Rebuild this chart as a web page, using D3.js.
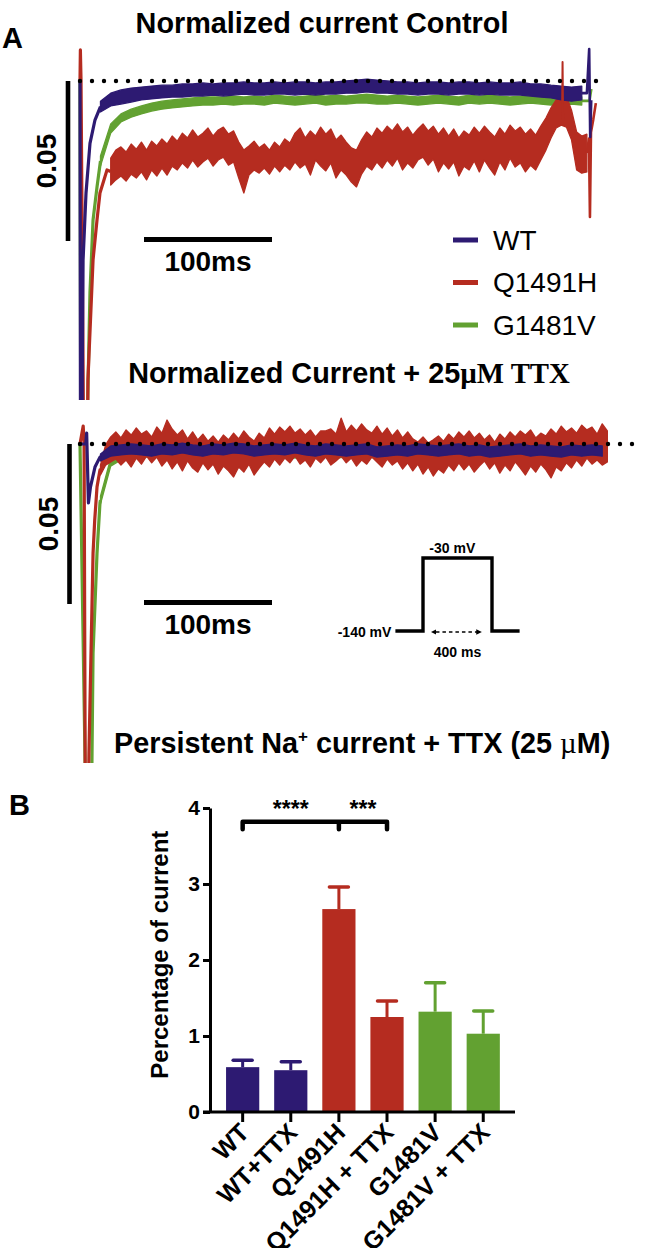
<!DOCTYPE html>
<html><head><meta charset="utf-8">
<script src="https://cdn.jsdelivr.net/npm/d3@7"></script>
<style>
body{margin:0;background:#fff}
svg{display:block}
text{font-family:"Liberation Sans",Arial,Helvetica,sans-serif;fill:#000}
</style>
</head><body>
<svg id="fig" width="648" height="1248"></svg>
<script>
// ---------------- DATA (normalized current in % of peak, time in ms) ----------------
const seriesNames = ["WT", "Q1491H", "G1481V"];

// Panel A top: Control
const wtCtrlTransient = [[0,0],[0.5,-15],[1.4,-15],[1.8,-9],[2.4,-5.6],[4.7,-3.5],[7.8,-1.95],[11.7,-1.22],[16,-0.8]];
const wtCtrlT0 = 16, wtCtrlDt = 8;
const wtCtrlHi = [-0.63,-0.38,-0.28,-0.22,-0.19,-0.16,-0.13,-0.13,-0.09,-0.09,-0.06,-0.09,-0.06,-0.06,-0.03,-0.06,-0.06,-0.03,-0.06,-0.03,-0.03,-0.06,-0.03,-0.03,0,0.03,0.06,0.03,0,-0.03,-0.03,-0.06,-0.03,-0.03,-0.06,-0.03,-0.03,-0.06,-0.03,-0.06,-0.06,-0.03,-0.09,-0.09,-0.13,-0.16,-0.19,-0.16];
const wtCtrlLo = [-0.97,-0.78,-0.72,-0.66,-0.59,-0.56,-0.53,-0.5,-0.5,-0.47,-0.47,-0.44,-0.47,-0.44,-0.41,-0.44,-0.44,-0.41,-0.41,-0.44,-0.41,-0.44,-0.41,-0.41,-0.38,-0.38,-0.34,-0.38,-0.38,-0.41,-0.41,-0.44,-0.41,-0.41,-0.44,-0.41,-0.41,-0.44,-0.41,-0.44,-0.44,-0.44,-0.47,-0.5,-0.53,-0.59,-0.63,-0.59];
const wtCtrlEnd = [[392,-0.38],[396,-0.38],[397.8,1.0],[398.6,-1.75],[399.4,-0.6]];

const gCtrlTransient = [[0,0],[0.8,-15],[4.5,-15],[6,-10],[7.8,-6.6],[10.2,-4.34],[13.3,-3.31],[16,-2.5]];
const gCtrlT0 = 16, gCtrlDt = 8;
const gCtrlHi = [-2.34,-1.34,-1.03,-0.88,-0.78,-0.69,-0.63,-0.59,-0.56,-0.53,-0.5,-0.5,-0.5,-0.47,-0.5,-0.47,-0.5,-0.44,-0.47,-0.5,-0.47,-0.44,-0.47,-0.44,-0.47,-0.44,-0.41,-0.44,-0.47,-0.44,-0.47,-0.5,-0.47,-0.44,-0.47,-0.5,-0.44,-0.47,-0.44,-0.47,-0.5,-0.47,-0.44,-0.47,-0.47,-0.5,-0.47,-0.5];
const gCtrlLo = [-2.66,-1.63,-1.28,-1.13,-1.03,-0.94,-0.88,-0.84,-0.81,-0.78,-0.75,-0.75,-0.72,-0.75,-0.72,-0.72,-0.75,-0.69,-0.72,-0.75,-0.72,-0.69,-0.75,-0.72,-0.72,-0.69,-0.69,-0.72,-0.72,-0.69,-0.72,-0.75,-0.72,-0.69,-0.72,-0.75,-0.69,-0.72,-0.69,-0.72,-0.75,-0.72,-0.69,-0.72,-0.75,-0.75,-0.72,-0.75];
const gCtrlEnd = [[392,-0.62],[398,-0.62],[399.5,-0.25]];

const qCtrlTransient = [[0,0],[0.3,0.97],[0.8,0],[3.5,-15],[5.5,-15],[6.2,-9.34],[10.2,-5.59],[13.3,-4.34],[15.6,-3.5],[21.1,-2.78],[24,-2.83]];
const qCtrlT0 = 24, qCtrlDt = 4;
const qCtrlHi = [-2.41,-2.16,-2.06,-2.22,-1.97,-2.13,-1.91,-2.16,-1.88,-2.03,
 -1.81,-1.97,-1.72,-1.88,-1.63,-1.78,-1.53,-1.75,-1.63,-1.47,
 -1.72,-1.53,-1.44,-1.66,-1.56,-1.91,-2.16,-2.03,-1.88,-2.09,
 -1.97,-2.16,-1.91,-2.06,-1.81,-1.94,-1.63,-1.47,-1.78,-1.56,
 -1.72,-1.44,-1.66,-1.5,-1.84,-1.69,-1.91,-2.09,-2.16,-1.84,
 -1.59,-1.75,-1.47,-1.63,-1.41,-1.56,-1.34,-1.59,-1.44,-1.69,
 -1.5,-1.34,-1.56,-1.41,-1.66,-1.47,-1.72,-1.5,-1.78,-1.56,
 -1.69,-1.44,-1.63,-1.41,-1.59,-1.75,-1.47,-1.66,-1.38,-1.56,
 -1.44,-1.66,-1.5,-1.69,-1.41,-1.16,-0.84,-0.59,-0.44,-0.47,
 -0.91,-1.59,-1.72,-1.66];
const qCtrlLo = [-3.25,-3.09,-2.97,-3.13,-2.91,-3.03,-2.84,-3.09,-2.78,-2.97,
 -2.72,-2.94,-2.66,-2.78,-2.56,-2.72,-2.47,-2.69,-2.53,-2.41,
 -2.66,-2.47,-2.38,-2.63,-2.53,-3.03,-3.5,-2.94,-2.78,-2.88,
 -2.72,-2.91,-2.66,-2.84,-2.63,-2.78,-2.53,-2.72,-2.59,-2.94,
 -2.47,-2.66,-2.81,-2.56,-3.03,-2.78,-2.94,-3.16,-3.31,-2.91,
 -2.66,-2.78,-2.53,-2.72,-2.47,-2.66,-2.41,-2.78,-2.56,-2.72,
 -2.47,-2.38,-2.63,-2.44,-2.84,-2.56,-2.75,-2.53,-2.97,-2.66,
 -2.78,-2.5,-2.84,-2.47,-2.72,-2.94,-2.53,-2.78,-2.41,-2.69,
 -2.56,-2.84,-2.63,-2.78,-2.47,-2.16,-1.78,-1.47,-1.38,-1.44,
 -1.84,-2.78,-2.88,-2.84];
const qCtrlSpike = [[376.6,-1.2],[377,0.59],[377.4,-1.2]];
const qCtrlEnd = [[396,-2.25],[397.6,-1.8],[398.4,-4.25],[399.2,-1.6],[401,-1.2],[403,-0.69]];

// Panel A bottom: + 25 µM TTX
const wtTtxTransient = [[0,0],[4.5,0],[5.2,0.34],[6.6,-1.84],[8.2,-1.34],[11.7,-0.72],[15.6,-0.41],[16,-0.42]];
const wtTtxT0 = 16, wtTtxDt = 8;
const wtTtxHi = [-0.31,-0.06,-0.03,0,-0.03,-0.06,0,-0.03,0.03,-0.03,-0.06,0,-0.03,0.03,0,-0.06,-0.03,0,-0.03,0.03,-0.03,-0.06,0,-0.03,-0.06,-0.03,0,-0.09,-0.06,-0.03,-0.06,0,-0.03,-0.06,-0.03,0,-0.06,-0.03,-0.09,-0.06,-0.03,0,-0.06,-0.03,-0.06,-0.09,-0.03,-0.06,-0.03,-0.06];
const wtTtxLo = [-0.53,-0.38,-0.34,-0.31,-0.34,-0.38,-0.31,-0.34,-0.28,-0.34,-0.38,-0.31,-0.34,-0.28,-0.31,-0.38,-0.34,-0.31,-0.34,-0.28,-0.34,-0.38,-0.31,-0.34,-0.38,-0.34,-0.31,-0.41,-0.38,-0.34,-0.38,-0.31,-0.34,-0.38,-0.34,-0.31,-0.38,-0.34,-0.41,-0.38,-0.34,-0.31,-0.38,-0.34,-0.38,-0.41,-0.34,-0.38,-0.34,-0.38];

const gTtxTransient = [[0,0],[4.8,-12],[8.8,-12],[9.4,-9.66],[10.2,-6.53],[13.3,-3.41],[15.6,-1.84],[16,-1.75]];
const gTtxT0 = 16, gTtxDt = 8;
const gTtxHi = [-1.63,-0.44,-0.25,-0.16,-0.13,-0.13,-0.09,-0.13,-0.09,-0.13,-0.16,-0.09,-0.13,-0.09,-0.13,-0.16,-0.13,-0.09,-0.13,-0.16,-0.13,-0.09,-0.13,-0.16,-0.13,-0.09,-0.13,-0.16,-0.13,-0.09,-0.13,-0.16,-0.13,-0.09,-0.13,-0.16,-0.13,-0.09,-0.13,-0.16,-0.13,-0.09,-0.13,-0.16,-0.13,-0.09,-0.13,-0.16,-0.13,-0.09];
const gTtxLo = [-1.88,-0.69,-0.5,-0.44,-0.41,-0.41,-0.38,-0.41,-0.38,-0.41,-0.44,-0.38,-0.41,-0.38,-0.41,-0.44,-0.41,-0.38,-0.41,-0.44,-0.41,-0.38,-0.41,-0.44,-0.41,-0.38,-0.41,-0.44,-0.41,-0.38,-0.41,-0.44,-0.41,-0.38,-0.41,-0.44,-0.41,-0.38,-0.41,-0.44,-0.41,-0.38,-0.41,-0.44,-0.41,-0.38,-0.41,-0.44,-0.41,-0.38];

const qTtxTransient = [[0,0],[2.5,0.56],[3.2,0],[4.2,-12],[6.2,-12],[7,-9.66],[8.6,-6.53],[10.2,-3.41],[11.5,-2.38],[13.3,-1.34],[15.6,-0.81],[16,-0.81]];
const qTtxT0 = 16, qTtxDt = 4;
const qTtxHi = [-0.66,-0.03,0.22,0.38,0.19,0.44,0.28,0.5,0.31,0.41,
 0.22,0.53,0.34,0.75,0.47,0.28,0.44,0.16,0.38,0.13,
 0.31,0.09,0.25,0.06,0.28,0.13,0.34,0.16,0.41,0.22,
 0.09,0.34,0.19,0.5,0.31,0.53,0.38,0.56,0.34,0.47,
 0.28,0.44,0.22,0.41,0.41,0.47,0.31,0.81,0.38,0.59,
 0.41,0.63,0.44,0.34,0.56,0.31,0.5,0.25,0.44,0.19,
 0.38,0.16,0.06,0.22,0.03,0.13,0.25,0.09,0.31,0.16,
 0.38,0.22,0.41,0.19,0.34,0.13,0.28,0.06,0.31,0.16,
 0.38,0.22,0.41,0.28,0.44,0.19,0.34,0.25,0.47,0.31,
 0.56,0.38,0.5,0.34,0.59,0.44,0.53,0.31,0.63,0.41];
const qTtxLo = [-0.97,-0.66,-0.56,-0.47,-0.66,-0.5,-0.72,-0.44,-0.63,-0.38,
 -0.59,-0.41,-0.69,-0.5,-0.78,-0.56,-0.84,-0.53,-0.75,-0.88,
 -0.59,-0.81,-0.63,-0.94,-0.69,-0.84,-1.03,-0.72,-0.88,-0.63,
 -0.97,-0.75,-0.56,-0.72,-0.47,-0.66,-0.44,-0.59,-0.38,-0.63,
 -0.5,-0.72,-0.44,-0.59,-0.41,-0.66,-0.53,-0.38,-0.59,-0.44,
 -0.69,-0.5,-0.63,-0.41,-0.56,-0.72,-0.47,-0.66,-0.53,-0.78,
 -0.59,-0.84,-0.63,-0.94,-0.72,-1.0,-0.78,-0.91,-0.66,-0.84,
 -0.59,-0.81,-0.63,-0.88,-0.69,-0.53,-0.78,-0.59,-0.91,-0.66,
 -0.84,-0.56,-0.75,-0.97,-0.69,-0.88,-0.63,-0.81,-1.06,-0.72,
 -0.84,-0.59,-0.75,-0.5,-0.69,-0.44,-0.63,-0.5,-0.66,-0.56];

// scale bars and zero lines
const scaleBarCurrent = 5;      // % of peak  -> labelled 0.05
const scaleBarTime = [50, 150]; // ms -> 100 ms
const zeroLineEnd = [412.5, 431.5];

// voltage protocol
const protoT = [-160, 0, 0, 400, 400, 560];
const protoV = [-140, -140, -30, -30, -140, -140];

// Panel B
const categories = ["WT", "WT+TTX", "Q1491H", "Q1491H + TTX", "G1481V", "G1481V + TTX"];
const barMeans = [0.59, 0.55, 2.67, 1.25, 1.32, 1.03];
const barErrors = [0.09, 0.11, 0.29, 0.21, 0.38, 0.30];
const barGroup = ["WT", "WT", "Q1491H", "Q1491H", "G1481V", "G1481V"];
const yTicks = [0, 1, 2, 3, 4];
const comparisons = [["WT", "Q1491H", "****"], ["Q1491H", "Q1491H + TTX", "***"]];
const bracketLevel = 3.82;

// ---------------- STYLE ----------------
const colors = { "WT": "#2d1a72", "Q1491H": "#b52c20", "G1481V": "#62a131" };

// ---------------- DRAW ----------------
const svg = d3.select("#fig");
const defs = svg.append("defs");
defs.append("clipPath").attr("id", "clipTop").append("rect").attr("x", 0).attr("y", 0).attr("width", 648).attr("height", 400);
defs.append("clipPath").attr("id", "clipBot").append("rect").attr("x", 0).attr("y", 405).attr("width", 648).attr("height", 358);
["s", "e"].forEach(k => {
  defs.append("marker").attr("id", "arr" + k).attr("viewBox", "0 0 10 10").attr("refX", k === "e" ? 9 : 1).attr("refY", 5)
    .attr("markerWidth", 4).attr("markerHeight", 4).attr("orient", "auto-start-reverse")
    .append("path").attr("d", "M0,0L10,5L0,10Z").attr("fill", "#000");
});

const xT = d3.scaleLinear().domain([0, 400]).range([80, 592]);
const yTop = d3.scaleLinear().domain([0, -5]).range([81, 241]);
const yBot = d3.scaleLinear().domain([0, -5]).range([444, 604]);

function drawBand(g, y, t0, dt, hi, lo, color) {
  const pts = hi.map((h, i) => [t0 + i * dt, h, lo[i]]);
  g.append("path").datum(pts)
    .attr("d", d3.area().x(d => xT(d[0])).y0(d => y(d[2])).y1(d => y(d[1])))
    .attr("fill", color).attr("stroke", color).attr("stroke-width", 1.3).attr("stroke-linejoin", "round");
}
function drawLine(g, y, pts, color, w) {
  g.append("path").datum(pts)
    .attr("d", d3.line().x(d => xT(d[0])).y(d => y(d[1])))
    .attr("fill", "none").attr("stroke", color).attr("stroke-width", w).attr("stroke-linejoin", "round");
}

// Labels
svg.append("text").attr("x", 2).attr("y", 48).attr("font-size", 29).attr("font-weight", "bold").text("A");
svg.append("text").attr("x", 9).attr("y", 815).attr("font-size", 29).attr("font-weight", "bold").text("B");

svg.append("text").attr("x", 322).attr("y", 33).attr("text-anchor", "middle").attr("font-size", 28.8).attr("font-weight", "bold")
  .text("Normalized current Control");
const t2 = svg.append("text").attr("x", 349).attr("y", 383).attr("text-anchor", "middle").attr("font-size", 28.8).attr("font-weight", "bold");
t2.append("tspan").text("Normalized Current + 25");
t2.append("tspan").attr("font-family", "'Liberation Serif',Times,serif").text("µM TTX");
const t3 = svg.append("text").attr("x", 114).attr("y", 753).attr("font-size", 28.8).attr("font-weight", "bold");
t3.append("tspan").text("Persistent Na");
t3.append("tspan").attr("dy", -11).attr("font-size", 17).text("+");
t3.append("tspan").attr("dy", 11).text(" current + TTX (25 ");
t3.append("tspan").attr("font-family", "'Liberation Serif',Times,serif").attr("font-weight", "normal").text("µ");
t3.append("tspan").text("M)");

// Panels
const panels = [
  { y: yTop, clip: "clipTop", zeroEnd: zeroLineEnd[0], barX: 68,
    bands: [
      ["G1481V", gCtrlTransient, gCtrlT0, gCtrlDt, gCtrlHi, gCtrlLo, gCtrlEnd],
      ["Q1491H", qCtrlTransient, qCtrlT0, qCtrlDt, qCtrlHi, qCtrlLo, qCtrlEnd],
      ["WT", wtCtrlTransient, wtCtrlT0, wtCtrlDt, wtCtrlHi, wtCtrlLo, wtCtrlEnd]
    ], extra: [["Q1491H", qCtrlSpike]] },
  { y: yBot, clip: "clipBot", zeroEnd: zeroLineEnd[1], barX: 69.5,
    bands: [
      ["G1481V", gTtxTransient, gTtxT0, gTtxDt, gTtxHi, gTtxLo, null],
      ["Q1491H", qTtxTransient, qTtxT0, qTtxDt, qTtxHi, qTtxLo, null],
      ["WT", wtTtxTransient, wtTtxT0, wtTtxDt, wtTtxHi, wtTtxLo, null]
    ], extra: [] }
];

panels.forEach(p => {
  const g = svg.append("g").attr("clip-path", `url(#${p.clip})`);
  p.bands.forEach(([name, tr, t0, dt, hi, lo, end]) => {
    const c = colors[name];
    drawBand(g, p.y, t0, dt, hi, lo, c);
    drawLine(g, p.y, tr, c, 3.2);
    if (end) drawLine(g, p.y, end, c, 2.6);
  });
  p.extra.forEach(([name, pts]) => drawLine(g, p.y, pts, colors[name], 2));
  // zero dotted line
  svg.append("path").attr("d", d3.line().x(d => xT(d)).y(() => p.y(0))([0, p.zeroEnd]))
    .attr("stroke", "#000").attr("stroke-width", 4.4).attr("stroke-linecap", "round").attr("stroke-dasharray", "0 12");
  // current scale bar
  svg.append("line").attr("x1", p.barX).attr("x2", p.barX).attr("y1", p.y(0)).attr("y2", p.y(-scaleBarCurrent))
    .attr("stroke", "#000").attr("stroke-width", 4.6);
  svg.append("text").attr("transform", `translate(${p.barX - 12},${p.y(-scaleBarCurrent / 2)}) rotate(-90)`)
    .attr("text-anchor", "middle").attr("font-size", 28).attr("font-weight", "bold")
    .text(d3.format(".2f")(scaleBarCurrent / 100));
  // time scale bar
  svg.append("line").attr("x1", xT(scaleBarTime[0])).attr("x2", xT(scaleBarTime[1]))
    .attr("y1", p.y(-4.95)).attr("y2", p.y(-4.95)).attr("stroke", "#000").attr("stroke-width", 5);
  svg.append("text").attr("x", xT((scaleBarTime[0] + scaleBarTime[1]) / 2)).attr("y", p.y(-5) + 30)
    .attr("text-anchor", "middle").attr("font-size", 28).attr("font-weight", "bold")
    .text((scaleBarTime[1] - scaleBarTime[0]) + "ms");
});

// Legend
seriesNames.forEach((n, i) => {
  const ly = 240 + i * 42.5;
  svg.append("line").attr("x1", 453).attr("x2", 478).attr("y1", ly).attr("y2", ly)
    .attr("stroke", colors[n]).attr("stroke-width", 5);
  svg.append("text").attr("x", 493).attr("y", ly + 9.5).attr("font-size", 28).text(n);
});

// Voltage protocol
const xP = d3.scaleLinear().domain([0, 400]).range([423, 492]);
const yP = d3.scaleLinear().domain([-140, -30]).range([631, 558]);
svg.append("path").datum(protoT.map((t, i) => [t, protoV[i]]))
  .attr("d", d3.line().x(d => xP(d[0])).y(d => yP(d[1])))
  .attr("fill", "none").attr("stroke", "#000").attr("stroke-width", 3.4).attr("stroke-linejoin", "miter");
svg.append("text").attr("x", xP(170)).attr("y", yP(-30) - 5).attr("text-anchor", "middle").attr("font-size", 14).attr("font-weight", "bold").text("-30 mV");
svg.append("text").attr("x", xP(-160) - 4).attr("y", yP(-140) + 5.5).attr("text-anchor", "end").attr("font-size", 14).attr("font-weight", "bold").text("-140 mV");
svg.append("line").attr("x1", xP(75)).attr("x2", xP(338)).attr("y1", yP(-140) + 1).attr("y2", yP(-140) + 1)
  .attr("stroke", "#000").attr("stroke-width", 1.4).attr("stroke-dasharray", "3.5 3")
  .attr("marker-start", "url(#arrs)").attr("marker-end", "url(#arre)");
svg.append("text").attr("x", xP(200)).attr("y", yP(-140) + 26).attr("text-anchor", "middle").attr("font-size", 14).attr("font-weight", "bold").text("400 ms");

// ---------------- Panel B: bar chart ----------------
const xB = d3.scaleBand().domain(categories).range([218.6, 507.3]).paddingInner(0.31).paddingOuter(0.155);
const yB = d3.scaleLinear().domain([0, 4]).range([1112, 808]);
const gB = svg.append("g");

categories.forEach((c, i) => {
  const col = colors[barGroup[i]];
  const cx = xB(c) + xB.bandwidth() / 2;
  gB.append("rect").attr("x", xB(c)).attr("y", yB(barMeans[i])).attr("width", xB.bandwidth())
    .attr("height", yB(0) - yB(barMeans[i])).attr("fill", col);
  gB.append("line").attr("x1", cx).attr("x2", cx).attr("y1", yB(barMeans[i])).attr("y2", yB(barMeans[i] + barErrors[i]))
    .attr("stroke", col).attr("stroke-width", 3);
  gB.append("line").attr("x1", cx - 9.5).attr("x2", cx + 9.5).attr("y1", yB(barMeans[i] + barErrors[i])).attr("y2", yB(barMeans[i] + barErrors[i]))
    .attr("stroke", col).attr("stroke-width", 3.5).attr("stroke-linecap", "round");
});

// y axis
const yAxis = gB.append("g").attr("transform", "translate(210,0)")
  .call(d3.axisLeft(yB).tickValues(yTicks).tickFormat(d3.format("d")).tickSize(7).tickSizeOuter(0).tickPadding(3));
yAxis.select(".domain").attr("stroke", "#000").attr("stroke-width", 3);
yAxis.selectAll(".tick line").attr("stroke", "#000").attr("stroke-width", 3);
yAxis.selectAll(".tick text").attr("font-size", 21).attr("font-weight", "bold").attr("font-family", "'Liberation Sans',Arial,sans-serif").attr("fill", "#000");

// x axis
gB.append("line").attr("x1", 203).attr("x2", 515).attr("y1", yB(0)).attr("y2", yB(0)).attr("stroke", "#000").attr("stroke-width", 3);
const xAxis = gB.append("g").attr("transform", `translate(0,${yB(0)})`)
  .call(d3.axisBottom(xB).tickSize(10).tickSizeOuter(0));
xAxis.select(".domain").remove();
xAxis.selectAll(".tick line").attr("stroke", "#000").attr("stroke-width", 3);
xAxis.selectAll(".tick text").attr("x", 0).attr("y", 0).attr("dy", 0)
  .attr("transform", "translate(8,22) rotate(-45)").attr("text-anchor", "end")
  .attr("font-size", 25).attr("font-weight", "bold").attr("font-family", "'Liberation Sans',Arial,sans-serif").attr("fill", "#000");

// y label
svg.append("text").attr("transform", `translate(168,${yB(2.07)}) rotate(-90)`).attr("text-anchor", "middle")
  .attr("font-size", 24).attr("font-weight", "bold").text("Percentage of current");

// significance bracket
const cx = c => xB(c) + xB.bandwidth() / 2;
const bTop = yB(bracketLevel), bBot = yB(bracketLevel - 0.1);
const firstC = comparisons[0][0], lastC = comparisons[comparisons.length - 1][1];
let dPath = `M${cx(firstC)},${bBot}V${bTop}H${cx(lastC)}V${bBot}`;
comparisons.slice(1).forEach(c => { dPath += `M${cx(c[0])},${bTop}V${bBot}`; });
gB.append("path").attr("d", dPath).attr("fill", "none").attr("stroke", "#000").attr("stroke-width", 4.5)
  .attr("stroke-linecap", "round").attr("stroke-linejoin", "round");
comparisons.forEach(c => {
  gB.append("text").attr("x", (cx(c[0]) + cx(c[1])) / 2).attr("y", yB(bracketLevel + 0.06))
    .attr("text-anchor", "middle").attr("font-size", 23).attr("font-weight", "bold").text(c[2]);
});
</script>
</body></html>
